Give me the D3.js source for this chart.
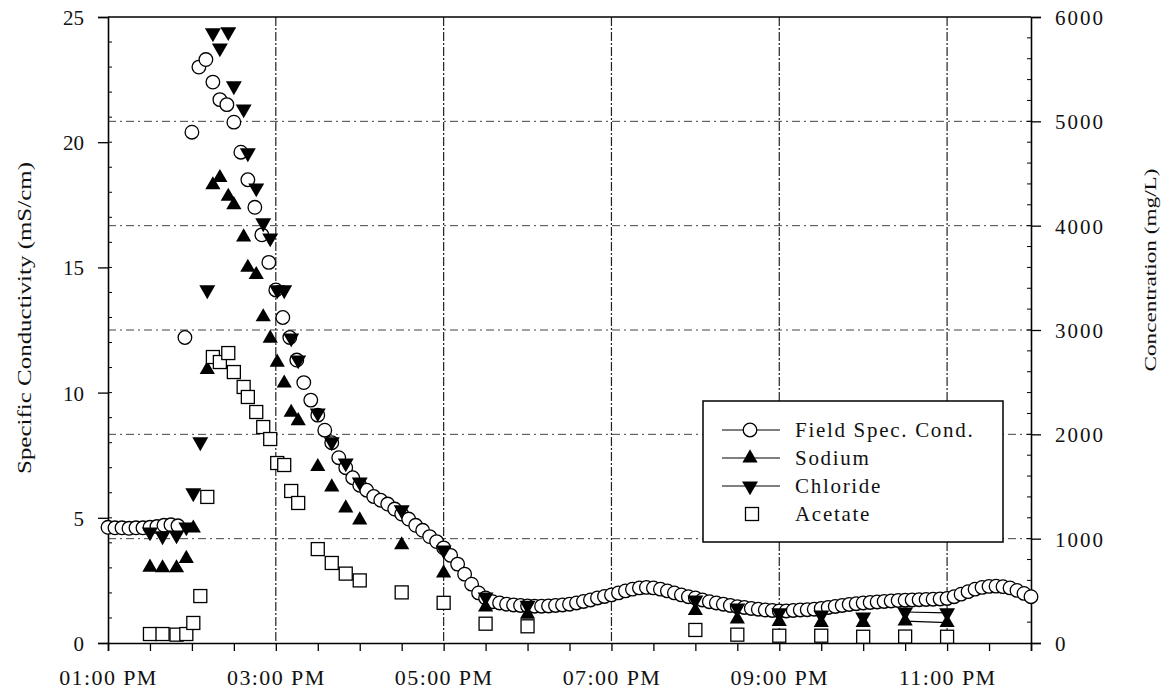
<!DOCTYPE html>
<html>
<head>
<meta charset="utf-8">
<script src="https://cdn.jsdelivr.net/npm/d3@7"></script>
<style>
  html, body { margin: 0; padding: 0; background: #fff; }
  svg { display: block; }
  text { font-family: "Liberation Serif", "Times New Roman", serif; fill: #111; }
</style>
</head>
<body>
<svg id="chart" width="1170" height="694"></svg>
<script>
// ---- data -------------------------------------------------------------
// Field specific conductivity (mS/cm), logged every 5 minutes
const fscTimes = [
  "13:00","13:05","13:10","13:15","13:20","13:25","13:30","13:35","13:40","13:45","13:50","13:55",
  "14:00","14:05","14:10","14:15","14:20","14:25","14:30","14:35","14:40","14:45","14:50","14:55",
  "15:00","15:05","15:10","15:15","15:20","15:25","15:30","15:35","15:40","15:45","15:50","15:55",
  "16:00","16:05","16:10","16:15","16:20","16:25","16:30","16:35","16:40","16:45","16:50","16:55",
  "17:00","17:05","17:10","17:15","17:20","17:25","17:30","17:35","17:40","17:45","17:50","17:55",
  "18:00","18:05","18:10","18:15","18:20","18:25","18:30","18:35","18:40","18:45","18:50","18:55",
  "19:00","19:05","19:10","19:15","19:20","19:25","19:30","19:35","19:40","19:45","19:50","19:55",
  "20:00","20:05","20:10","20:15","20:20","20:25","20:30","20:35","20:40","20:45","20:50","20:55",
  "21:00","21:05","21:10","21:15","21:20","21:25","21:30","21:35","21:40","21:45","21:50","21:55",
  "22:00","22:05","22:10","22:15","22:20","22:25","22:30","22:35","22:40","22:45","22:50","22:55",
  "23:00","23:05","23:10","23:15","23:20","23:25","23:30","23:35","23:40","23:45","23:50","23:55",
  "24:00"
];
const fscValues = [
  4.62, 4.60, 4.60, 4.58, 4.60, 4.60, 4.62, 4.65, 4.70, 4.72, 4.68, 12.2,
  20.4, 23.0, 23.3, 22.4, 21.7, 21.5, 20.8, 19.6, 18.5, 17.4, 16.3, 15.2,
  14.1, 13.0, 12.2, 11.3, 10.4, 9.7, 9.1, 8.5, 8.0, 7.4, 7.0, 6.6,
  6.3, 6.1, 5.85, 5.7, 5.55, 5.35, 5.15, 4.95, 4.7, 4.5, 4.25, 4.05,
  3.8, 3.5, 3.15, 2.75, 2.35, 2.0, 1.8, 1.65, 1.6, 1.55, 1.52, 1.5,
  1.48, 1.47, 1.47, 1.48, 1.5, 1.52, 1.55, 1.6, 1.66, 1.72, 1.8, 1.86,
  1.92, 2.0, 2.08, 2.15, 2.2, 2.22, 2.2, 2.15, 2.08, 2.0, 1.92, 1.85,
  1.8, 1.72, 1.65, 1.6, 1.55, 1.5, 1.45, 1.42, 1.38, 1.35, 1.32, 1.3,
  1.28, 1.28, 1.3, 1.32, 1.33, 1.35, 1.38, 1.42, 1.46, 1.5, 1.54, 1.57,
  1.6, 1.62, 1.64, 1.66, 1.68, 1.7, 1.71, 1.72, 1.73, 1.74, 1.75, 1.76,
  1.78, 1.85, 1.95, 2.05, 2.15, 2.22, 2.26, 2.27, 2.25, 2.2, 2.1, 1.98,
  1.85
];

// Grab-sample times and ion concentrations (mg/L)
const sampleTimes = [
  "13:30","13:39","13:49","13:56","14:01","14:06","14:11","14:15","14:20","14:26",
  "14:30","14:37","14:40","14:46","14:51","14:56","15:01","15:06","15:11","15:16",
  "15:30","15:40","15:50","16:00","16:30","17:00","17:30","18:00","20:00","20:30",
  "21:00","21:30","22:00","22:30","23:00"
];
const sodium = [
  725, 719, 719, 810, 1100, null, 2620, 4390, 4460, 4280,
  4200, 3890, 3600, 3530, 3125, 2920, 2690, 2490, 2210, 2130,
  1690, 1495, 1294, 1179, 940, 670, 345, 275, 310, 230,
  205, 195, 195, 210, 195
];
const chloride = [
  1064, 1026, 1035, 1112, 1438, 1927, 3384, 5847, 5703, 5857,
  5339, 5118, 4697, 4361, 4026, 3882, 3384, 3384, 2923, 2712,
  2204, 1927, 1725, 1543, 1275, 891, 441, 360, 412, 335,
  288, 268, 249, 297, 288
];
const acetate = [
  86, 86, 80, 86, 192, 450, 1400, 2741, 2693, 2779,
  2597, 2454, 2358, 2214, 2070, 1955, 1725, 1706, 1457, 1342,
  900, 767, 665, 600, 485, 385, 185, 160, 125, 80,
  70, 70, 60, 62, 60
];

const seriesNames = ["Field Spec. Cond.", "Sodium", "Chloride", "Acetate"];
const leftTicks = [0, 5, 10, 15, 20, 25];
const rightTicks = [0, 1000, 2000, 3000, 4000, 5000, 6000];
const timeLabels = ["13:00", "15:00", "17:00", "19:00", "21:00", "23:00"];

// ---- helpers ------------------------------------------------------------
const parseT = s => {
  const [h, m] = s.split(":").map(Number);
  return new Date(2000, 0, 1, h, m);
};

const svg = d3.select("#chart");
const m = { left: 108, right: 1031, top: 17, bottom: 643 };

const x = d3.scaleTime()
  .domain([parseT("13:00"), parseT("24:00")])
  .range([m.left, m.right]);
const yL = d3.scaleLinear().domain([0, 25]).range([m.bottom, m.top]);
const yR = d3.scaleLinear().domain([0, 6000]).range([m.bottom, m.top]);

// ---- grid -------------------------------------------------------------
const grid = svg.append("g");
grid.selectAll("line.h")
  .data(rightTicks.filter(v => v > 0 && v < 6000))
  .join("line")
  .attr("x1", m.left).attr("x2", m.right)
  .attr("y1", d => yR(d)).attr("y2", d => yR(d))
  .attr("stroke", "#444").attr("stroke-width", 1)
  .attr("stroke-dasharray", "8 4 2 4");
grid.selectAll("line.v")
  .data(timeLabels.slice(1))
  .join("line")
  .attr("x1", d => x(parseT(d))).attr("x2", d => x(parseT(d)))
  .attr("y1", m.top).attr("y2", m.bottom)
  .attr("stroke", "#222").attr("stroke-width", 1.2)
  .attr("stroke-dasharray", "9 2 2 2");

// ---- axes -------------------------------------------------------------
const fmt = d3.timeFormat("%I:%M %p");
const hm = d3.timeFormat("%H:%M");

const xAxis = d3.axisBottom(x)
  .tickValues(d3.timeMinute.every(30).range(parseT("13:00"), parseT("24:01")))
  .tickSize(8)
  .tickFormat(d => timeLabels.includes(hm(d)) ? fmt(d) : "");
const gx = svg.append("g").attr("transform", `translate(0,${m.bottom})`).call(xAxis);
gx.select(".domain").attr("stroke", "#000").attr("stroke-width", 1.6);
gx.selectAll(".tick line").attr("stroke", "#000").attr("stroke-width", 1.3);
gx.selectAll(".tick text")
  .attr("y", 26).attr("dy", "0.71em")
  .style("font-size", "22px").style("letter-spacing", "1.4px");

const gyL = svg.append("g").attr("transform", `translate(${m.left},0)`)
  .call(d3.axisLeft(yL).tickValues(leftTicks).tickSize(10).tickPadding(14).tickFormat(d3.format("d")));
gyL.select(".domain").attr("stroke", "#000").attr("stroke-width", 1.6);
gyL.selectAll(".tick line").attr("stroke", "#000").attr("stroke-width", 1.3);
gyL.selectAll(".tick text").style("font-size", "21px").attr("dy", "0.36em");

const gyR = svg.append("g").attr("transform", `translate(${m.right},0)`)
  .call(d3.axisRight(yR).tickValues(rightTicks).tickSize(10).tickPadding(14).tickFormat(d3.format("d")));
gyR.select(".domain").attr("stroke", "#000").attr("stroke-width", 1.6);
gyR.selectAll(".tick line").attr("stroke", "#000").attr("stroke-width", 1.3);
gyR.selectAll(".tick text").style("font-size", "21px").style("letter-spacing", "2px").attr("dy", "0.36em");

// minor ticks on the inside of both vertical axes
svg.append("g").selectAll("line")
  .data(d3.range(1, 25))
  .join("line")
  .attr("x1", m.left).attr("x2", m.left + 4)
  .attr("y1", d => yL(d)).attr("y2", d => yL(d))
  .attr("stroke", "#000").attr("stroke-width", 1);
svg.append("g").selectAll("line")
  .data(d3.range(200, 6000, 200))
  .join("line")
  .attr("x1", m.right - 4).attr("x2", m.right)
  .attr("y1", d => yR(d)).attr("y2", d => yR(d))
  .attr("stroke", "#000").attr("stroke-width", 1);

// top frame line
svg.append("line")
  .attr("x1", m.left).attr("x2", m.right)
  .attr("y1", m.top).attr("y2", m.top)
  .attr("stroke", "#000").attr("stroke-width", 1.6);

// axis titles
svg.append("text")
  .attr("transform", `translate(31,318) rotate(-90)`)
  .attr("text-anchor", "middle")
  .attr("textLength", 312).attr("lengthAdjust", "spacingAndGlyphs")
  .style("font-size", "19px")
  .text("Specific Conductivity (mS/cm)");
svg.append("text")
  .attr("transform", `translate(1156,270) rotate(-90)`)
  .attr("text-anchor", "middle")
  .attr("textLength", 203).attr("lengthAdjust", "spacingAndGlyphs")
  .style("font-size", "17px")
  .text("Concentration (mg/L)");

// ---- markers ----------------------------------------------------------
const triUp = d3.symbol().type(d3.symbolTriangle).size(100);
const triDown = d3.symbol().type(d3.symbolTriangle).size(110);
const sq = 13;

const fsc = fscTimes.map((t, i) => ({ t: parseT(t), v: fscValues[i] }));
const mk = arr => sampleTimes.map((t, i) => ({ t: parseT(t), v: arr[i] })).filter(d => d.v != null);
const naData = mk(sodium), clData = mk(chloride), acData = mk(acetate);

svg.append("g").selectAll("circle")
  .data(fsc).join("circle")
  .attr("cx", d => x(d.t)).attr("cy", d => yL(d.v)).attr("r", 6.8)
  .attr("fill", "#fff").attr("stroke", "#000").attr("stroke-width", 1.3);

// the final pair of samples is joined by a line for both ions
const tail = d3.line().x(d => x(d.t)).y(d => yR(d.v));
[naData, clData].forEach(s => {
  svg.append("path").attr("d", tail(s.slice(-2)))
    .attr("fill", "none").attr("stroke", "#000").attr("stroke-width", 1.2);
});

svg.append("g").selectAll("path")
  .data(naData).join("path")
  .attr("d", triUp)
  .attr("transform", d => `translate(${x(d.t)},${yR(d.v)})`)
  .attr("fill", "#000");

svg.append("g").selectAll("path")
  .data(clData).join("path")
  .attr("d", triDown)
  .attr("transform", d => `translate(${x(d.t)},${yR(d.v)}) rotate(180)`)
  .attr("fill", "#000");

svg.append("g").selectAll("rect")
  .data(acData).join("rect")
  .attr("x", d => x(d.t) - sq / 2).attr("y", d => yR(d.v) - sq / 2)
  .attr("width", sq).attr("height", sq)
  .attr("fill", "#fff").attr("stroke", "#000").attr("stroke-width", 1.3);

// ---- legend -----------------------------------------------------------
const lg = svg.append("g").attr("transform", "translate(703,401)");
lg.append("rect").attr("width", 300).attr("height", 141)
  .attr("fill", "#fff").attr("stroke", "#000").attr("stroke-width", 1.5);
const rowY = [29, 57, 85, 113];
seriesNames.forEach((name, i) => {
  const g = lg.append("g").attr("transform", `translate(0,${rowY[i]})`);
  if (i < 3) {
    g.append("line").attr("x1", 19).attr("x2", 77)
      .attr("stroke", "#000").attr("stroke-width", 1);
  }
  if (i === 0) {
    g.append("circle").attr("cx", 47).attr("r", 6.8)
      .attr("fill", "#fff").attr("stroke", "#000").attr("stroke-width", 1.3);
  } else if (i === 1) {
    g.append("path").attr("d", triUp).attr("transform", "translate(47,0)").attr("fill", "#000");
  } else if (i === 2) {
    g.append("path").attr("d", triDown).attr("transform", "translate(47,0) rotate(180)").attr("fill", "#000");
  } else {
    g.append("rect").attr("x", 49 - sq / 2).attr("y", -sq / 2).attr("width", sq).attr("height", sq)
      .attr("fill", "#fff").attr("stroke", "#000").attr("stroke-width", 1.3);
  }
  g.append("text").attr("x", 92).attr("y", 7)
    .style("font-size", "21px").style("letter-spacing", "1.7px")
    .text(name);
});
</script>
</body>
</html>
